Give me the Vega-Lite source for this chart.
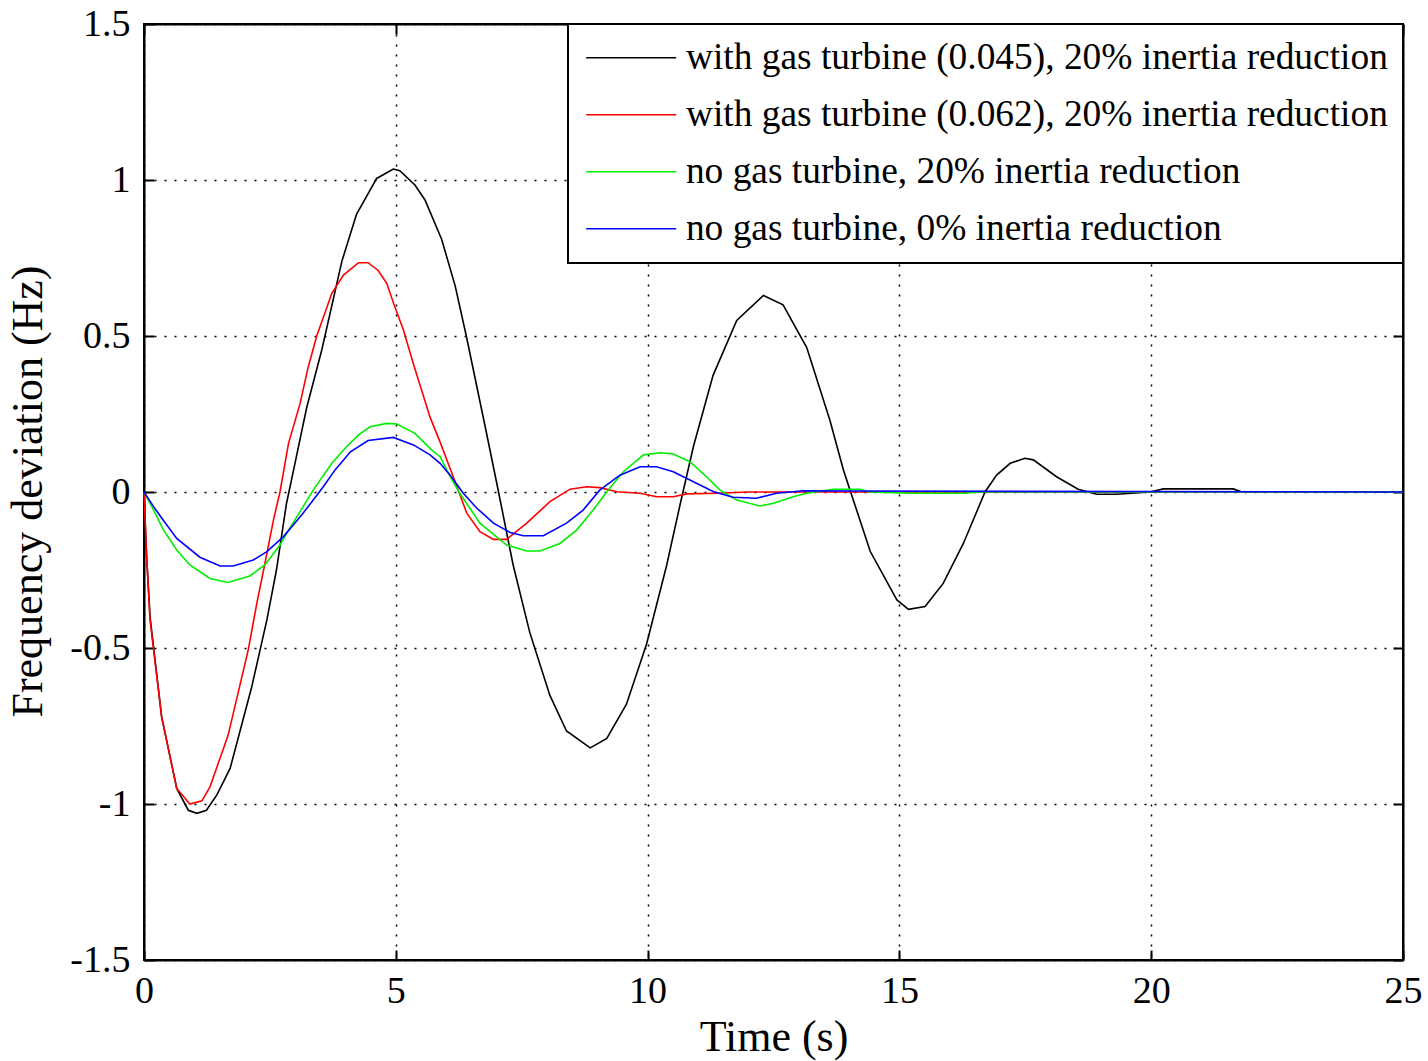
{
  "$schema": "https://vega.github.io/schema/vega-lite/v6.json",
  "width": 1259,
  "height": 936,
  "autosize": {"type": "none"},
  "padding": {"left": 144, "top": 24, "right": 25, "bottom": 101},
  "background": "white",
  "config": {
    "view": {"stroke": "black", "strokeWidth": 2},
    "font": "Liberation Serif",
    "legend": {"strokeWidth": 2}
  },
  "data": {
    "values": [
      {"t": 0, "f": 0, "s": "with gas turbine (0.045), 20% inertia reduction"},
      {"t": 0.05, "f": -0.2, "s": "with gas turbine (0.045), 20% inertia reduction"},
      {"t": 0.12, "f": -0.4, "s": "with gas turbine (0.045), 20% inertia reduction"},
      {"t": 0.35, "f": -0.72, "s": "with gas turbine (0.045), 20% inertia reduction"},
      {"t": 0.65, "f": -0.95, "s": "with gas turbine (0.045), 20% inertia reduction"},
      {"t": 0.88, "f": -1.02, "s": "with gas turbine (0.045), 20% inertia reduction"},
      {"t": 1.05, "f": -1.03, "s": "with gas turbine (0.045), 20% inertia reduction"},
      {"t": 1.24, "f": -1.02, "s": "with gas turbine (0.045), 20% inertia reduction"},
      {"t": 1.45, "f": -0.97, "s": "with gas turbine (0.045), 20% inertia reduction"},
      {"t": 1.71, "f": -0.886, "s": "with gas turbine (0.045), 20% inertia reduction"},
      {"t": 2.14, "f": -0.624, "s": "with gas turbine (0.045), 20% inertia reduction"},
      {"t": 2.44, "f": -0.41, "s": "with gas turbine (0.045), 20% inertia reduction"},
      {"t": 2.63, "f": -0.25, "s": "with gas turbine (0.045), 20% inertia reduction"},
      {"t": 2.83, "f": -0.036, "s": "with gas turbine (0.045), 20% inertia reduction"},
      {"t": 2.97, "f": 0.07, "s": "with gas turbine (0.045), 20% inertia reduction"},
      {"t": 3.23, "f": 0.27, "s": "with gas turbine (0.045), 20% inertia reduction"},
      {"t": 3.53, "f": 0.455, "s": "with gas turbine (0.045), 20% inertia reduction"},
      {"t": 3.93, "f": 0.74, "s": "with gas turbine (0.045), 20% inertia reduction"},
      {"t": 4.22, "f": 0.89, "s": "with gas turbine (0.045), 20% inertia reduction"},
      {"t": 4.62, "f": 1.005, "s": "with gas turbine (0.045), 20% inertia reduction"},
      {"t": 4.95, "f": 1.035, "s": "with gas turbine (0.045), 20% inertia reduction"},
      {"t": 5.08, "f": 1.03, "s": "with gas turbine (0.045), 20% inertia reduction"},
      {"t": 5.38, "f": 0.984, "s": "with gas turbine (0.045), 20% inertia reduction"},
      {"t": 5.58, "f": 0.936, "s": "with gas turbine (0.045), 20% inertia reduction"},
      {"t": 5.91, "f": 0.81, "s": "with gas turbine (0.045), 20% inertia reduction"},
      {"t": 6.18, "f": 0.66, "s": "with gas turbine (0.045), 20% inertia reduction"},
      {"t": 6.4, "f": 0.5, "s": "with gas turbine (0.045), 20% inertia reduction"},
      {"t": 6.8, "f": 0.19, "s": "with gas turbine (0.045), 20% inertia reduction"},
      {"t": 7.04, "f": 0.0, "s": "with gas turbine (0.045), 20% inertia reduction"},
      {"t": 7.33, "f": -0.234, "s": "with gas turbine (0.045), 20% inertia reduction"},
      {"t": 7.66, "f": -0.45, "s": "with gas turbine (0.045), 20% inertia reduction"},
      {"t": 8.06, "f": -0.652, "s": "with gas turbine (0.045), 20% inertia reduction"},
      {"t": 8.39, "f": -0.766, "s": "with gas turbine (0.045), 20% inertia reduction"},
      {"t": 8.86, "f": -0.82, "s": "with gas turbine (0.045), 20% inertia reduction"},
      {"t": 9.19, "f": -0.79, "s": "with gas turbine (0.045), 20% inertia reduction"},
      {"t": 9.58, "f": -0.68, "s": "with gas turbine (0.045), 20% inertia reduction"},
      {"t": 9.98, "f": -0.487, "s": "with gas turbine (0.045), 20% inertia reduction"},
      {"t": 10.38, "f": -0.234, "s": "with gas turbine (0.045), 20% inertia reduction"},
      {"t": 10.64, "f": -0.044, "s": "with gas turbine (0.045), 20% inertia reduction"},
      {"t": 10.91, "f": 0.146, "s": "with gas turbine (0.045), 20% inertia reduction"},
      {"t": 11.3, "f": 0.374, "s": "with gas turbine (0.045), 20% inertia reduction"},
      {"t": 11.77, "f": 0.55, "s": "with gas turbine (0.045), 20% inertia reduction"},
      {"t": 12.3, "f": 0.63, "s": "with gas turbine (0.045), 20% inertia reduction"},
      {"t": 12.69, "f": 0.6, "s": "with gas turbine (0.045), 20% inertia reduction"},
      {"t": 13.16, "f": 0.463, "s": "with gas turbine (0.045), 20% inertia reduction"},
      {"t": 13.62, "f": 0.23, "s": "with gas turbine (0.045), 20% inertia reduction"},
      {"t": 13.89, "f": 0.07, "s": "with gas turbine (0.045), 20% inertia reduction"},
      {"t": 14.02, "f": 0.006, "s": "with gas turbine (0.045), 20% inertia reduction"},
      {"t": 14.42, "f": -0.19, "s": "with gas turbine (0.045), 20% inertia reduction"},
      {"t": 14.95, "f": -0.346, "s": "with gas turbine (0.045), 20% inertia reduction"},
      {"t": 15.18, "f": -0.376, "s": "with gas turbine (0.045), 20% inertia reduction"},
      {"t": 15.51, "f": -0.367, "s": "with gas turbine (0.045), 20% inertia reduction"},
      {"t": 15.87, "f": -0.293, "s": "with gas turbine (0.045), 20% inertia reduction"},
      {"t": 16.27, "f": -0.165, "s": "with gas turbine (0.045), 20% inertia reduction"},
      {"t": 16.7, "f": 0.0, "s": "with gas turbine (0.045), 20% inertia reduction"},
      {"t": 16.93, "f": 0.054, "s": "with gas turbine (0.045), 20% inertia reduction"},
      {"t": 17.2, "f": 0.092, "s": "with gas turbine (0.045), 20% inertia reduction"},
      {"t": 17.49, "f": 0.108, "s": "with gas turbine (0.045), 20% inertia reduction"},
      {"t": 17.66, "f": 0.103, "s": "with gas turbine (0.045), 20% inertia reduction"},
      {"t": 18.12, "f": 0.049, "s": "with gas turbine (0.045), 20% inertia reduction"},
      {"t": 18.55, "f": 0.009, "s": "with gas turbine (0.045), 20% inertia reduction"},
      {"t": 18.92, "f": -0.007, "s": "with gas turbine (0.045), 20% inertia reduction"},
      {"t": 19.31, "f": -0.007, "s": "with gas turbine (0.045), 20% inertia reduction"},
      {"t": 19.98, "f": 0.0, "s": "with gas turbine (0.045), 20% inertia reduction"},
      {"t": 20.24, "f": 0.01, "s": "with gas turbine (0.045), 20% inertia reduction"},
      {"t": 21.63, "f": 0.01, "s": "with gas turbine (0.045), 20% inertia reduction"},
      {"t": 21.8, "f": 0.0, "s": "with gas turbine (0.045), 20% inertia reduction"},
      {"t": 25, "f": 0.0, "s": "with gas turbine (0.045), 20% inertia reduction"},

      {"t": 0, "f": 0, "s": "with gas turbine (0.062), 20% inertia reduction"},
      {"t": 0.05, "f": -0.2, "s": "with gas turbine (0.062), 20% inertia reduction"},
      {"t": 0.12, "f": -0.41, "s": "with gas turbine (0.062), 20% inertia reduction"},
      {"t": 0.35, "f": -0.72, "s": "with gas turbine (0.062), 20% inertia reduction"},
      {"t": 0.65, "f": -0.95, "s": "with gas turbine (0.062), 20% inertia reduction"},
      {"t": 0.91, "f": -1.0, "s": "with gas turbine (0.062), 20% inertia reduction"},
      {"t": 1.15, "f": -0.99, "s": "with gas turbine (0.062), 20% inertia reduction"},
      {"t": 1.31, "f": -0.945, "s": "with gas turbine (0.062), 20% inertia reduction"},
      {"t": 1.67, "f": -0.78, "s": "with gas turbine (0.062), 20% inertia reduction"},
      {"t": 2.07, "f": -0.506, "s": "with gas turbine (0.062), 20% inertia reduction"},
      {"t": 2.24, "f": -0.357, "s": "with gas turbine (0.062), 20% inertia reduction"},
      {"t": 2.4, "f": -0.23, "s": "with gas turbine (0.062), 20% inertia reduction"},
      {"t": 2.57, "f": -0.09, "s": "with gas turbine (0.062), 20% inertia reduction"},
      {"t": 2.7, "f": 0.0, "s": "with gas turbine (0.062), 20% inertia reduction"},
      {"t": 2.87, "f": 0.156, "s": "with gas turbine (0.062), 20% inertia reduction"},
      {"t": 3.1, "f": 0.284, "s": "with gas turbine (0.062), 20% inertia reduction"},
      {"t": 3.26, "f": 0.4, "s": "with gas turbine (0.062), 20% inertia reduction"},
      {"t": 3.43, "f": 0.5, "s": "with gas turbine (0.062), 20% inertia reduction"},
      {"t": 3.73, "f": 0.637, "s": "with gas turbine (0.062), 20% inertia reduction"},
      {"t": 3.96, "f": 0.695, "s": "with gas turbine (0.062), 20% inertia reduction"},
      {"t": 4.26, "f": 0.735, "s": "with gas turbine (0.062), 20% inertia reduction"},
      {"t": 4.45, "f": 0.735, "s": "with gas turbine (0.062), 20% inertia reduction"},
      {"t": 4.65, "f": 0.71, "s": "with gas turbine (0.062), 20% inertia reduction"},
      {"t": 4.82, "f": 0.669, "s": "with gas turbine (0.062), 20% inertia reduction"},
      {"t": 4.98, "f": 0.594, "s": "with gas turbine (0.062), 20% inertia reduction"},
      {"t": 5.15, "f": 0.52, "s": "with gas turbine (0.062), 20% inertia reduction"},
      {"t": 5.35, "f": 0.41, "s": "with gas turbine (0.062), 20% inertia reduction"},
      {"t": 5.68, "f": 0.24, "s": "with gas turbine (0.062), 20% inertia reduction"},
      {"t": 5.88, "f": 0.16, "s": "with gas turbine (0.062), 20% inertia reduction"},
      {"t": 6.14, "f": 0.049, "s": "with gas turbine (0.062), 20% inertia reduction"},
      {"t": 6.41, "f": -0.068, "s": "with gas turbine (0.062), 20% inertia reduction"},
      {"t": 6.67, "f": -0.127, "s": "with gas turbine (0.062), 20% inertia reduction"},
      {"t": 6.94, "f": -0.152, "s": "with gas turbine (0.062), 20% inertia reduction"},
      {"t": 7.2, "f": -0.152, "s": "with gas turbine (0.062), 20% inertia reduction"},
      {"t": 7.6, "f": -0.1, "s": "with gas turbine (0.062), 20% inertia reduction"},
      {"t": 8.06, "f": -0.031, "s": "with gas turbine (0.062), 20% inertia reduction"},
      {"t": 8.46, "f": 0.009, "s": "with gas turbine (0.062), 20% inertia reduction"},
      {"t": 8.79, "f": 0.017, "s": "with gas turbine (0.062), 20% inertia reduction"},
      {"t": 9.05, "f": 0.014, "s": "with gas turbine (0.062), 20% inertia reduction"},
      {"t": 9.39, "f": 0.001, "s": "with gas turbine (0.062), 20% inertia reduction"},
      {"t": 9.85, "f": -0.004, "s": "with gas turbine (0.062), 20% inertia reduction"},
      {"t": 10.18, "f": -0.015, "s": "with gas turbine (0.062), 20% inertia reduction"},
      {"t": 10.51, "f": -0.015, "s": "with gas turbine (0.062), 20% inertia reduction"},
      {"t": 10.78, "f": -0.006, "s": "with gas turbine (0.062), 20% inertia reduction"},
      {"t": 11.37, "f": -0.004, "s": "with gas turbine (0.062), 20% inertia reduction"},
      {"t": 12, "f": 0.0, "s": "with gas turbine (0.062), 20% inertia reduction"},
      {"t": 25, "f": 0.0, "s": "with gas turbine (0.062), 20% inertia reduction"},

      {"t": 0, "f": 0, "s": "no gas turbine, 20% inertia reduction"},
      {"t": 0.19, "f": -0.058, "s": "no gas turbine, 20% inertia reduction"},
      {"t": 0.38, "f": -0.12, "s": "no gas turbine, 20% inertia reduction"},
      {"t": 0.65, "f": -0.186, "s": "no gas turbine, 20% inertia reduction"},
      {"t": 0.91, "f": -0.234, "s": "no gas turbine, 20% inertia reduction"},
      {"t": 1.31, "f": -0.277, "s": "no gas turbine, 20% inertia reduction"},
      {"t": 1.67, "f": -0.29, "s": "no gas turbine, 20% inertia reduction"},
      {"t": 2.1, "f": -0.269, "s": "no gas turbine, 20% inertia reduction"},
      {"t": 2.4, "f": -0.234, "s": "no gas turbine, 20% inertia reduction"},
      {"t": 2.7, "f": -0.17, "s": "no gas turbine, 20% inertia reduction"},
      {"t": 2.87, "f": -0.122, "s": "no gas turbine, 20% inertia reduction"},
      {"t": 3.16, "f": -0.047, "s": "no gas turbine, 20% inertia reduction"},
      {"t": 3.36, "f": 0.006, "s": "no gas turbine, 20% inertia reduction"},
      {"t": 3.73, "f": 0.092, "s": "no gas turbine, 20% inertia reduction"},
      {"t": 4.02, "f": 0.145, "s": "no gas turbine, 20% inertia reduction"},
      {"t": 4.26, "f": 0.183, "s": "no gas turbine, 20% inertia reduction"},
      {"t": 4.49, "f": 0.209, "s": "no gas turbine, 20% inertia reduction"},
      {"t": 4.82, "f": 0.22, "s": "no gas turbine, 20% inertia reduction"},
      {"t": 5.02, "f": 0.218, "s": "no gas turbine, 20% inertia reduction"},
      {"t": 5.38, "f": 0.188, "s": "no gas turbine, 20% inertia reduction"},
      {"t": 5.71, "f": 0.135, "s": "no gas turbine, 20% inertia reduction"},
      {"t": 5.88, "f": 0.113, "s": "no gas turbine, 20% inertia reduction"},
      {"t": 6.08, "f": 0.049, "s": "no gas turbine, 20% inertia reduction"},
      {"t": 6.27, "f": -0.004, "s": "no gas turbine, 20% inertia reduction"},
      {"t": 6.67, "f": -0.1, "s": "no gas turbine, 20% inertia reduction"},
      {"t": 7.2, "f": -0.17, "s": "no gas turbine, 20% inertia reduction"},
      {"t": 7.6, "f": -0.189, "s": "no gas turbine, 20% inertia reduction"},
      {"t": 7.86, "f": -0.189, "s": "no gas turbine, 20% inertia reduction"},
      {"t": 8.26, "f": -0.165, "s": "no gas turbine, 20% inertia reduction"},
      {"t": 8.59, "f": -0.122, "s": "no gas turbine, 20% inertia reduction"},
      {"t": 8.92, "f": -0.058, "s": "no gas turbine, 20% inertia reduction"},
      {"t": 9.19, "f": 0.001, "s": "no gas turbine, 20% inertia reduction"},
      {"t": 9.52, "f": 0.065, "s": "no gas turbine, 20% inertia reduction"},
      {"t": 9.92, "f": 0.119, "s": "no gas turbine, 20% inertia reduction"},
      {"t": 10.25, "f": 0.126, "s": "no gas turbine, 20% inertia reduction"},
      {"t": 10.51, "f": 0.122, "s": "no gas turbine, 20% inertia reduction"},
      {"t": 10.84, "f": 0.097, "s": "no gas turbine, 20% inertia reduction"},
      {"t": 11.17, "f": 0.049, "s": "no gas turbine, 20% inertia reduction"},
      {"t": 11.44, "f": 0.006, "s": "no gas turbine, 20% inertia reduction"},
      {"t": 11.77, "f": -0.026, "s": "no gas turbine, 20% inertia reduction"},
      {"t": 12.23, "f": -0.045, "s": "no gas turbine, 20% inertia reduction"},
      {"t": 12.5, "f": -0.036, "s": "no gas turbine, 20% inertia reduction"},
      {"t": 12.89, "f": -0.015, "s": "no gas turbine, 20% inertia reduction"},
      {"t": 13.16, "f": -0.004, "s": "no gas turbine, 20% inertia reduction"},
      {"t": 13.69, "f": 0.009, "s": "no gas turbine, 20% inertia reduction"},
      {"t": 14.22, "f": 0.009, "s": "no gas turbine, 20% inertia reduction"},
      {"t": 14.4, "f": 0.0, "s": "no gas turbine, 20% inertia reduction"},
      {"t": 15.2, "f": -0.004, "s": "no gas turbine, 20% inertia reduction"},
      {"t": 16.3, "f": -0.004, "s": "no gas turbine, 20% inertia reduction"},
      {"t": 16.6, "f": 0.0, "s": "no gas turbine, 20% inertia reduction"},
      {"t": 25, "f": 0.0, "s": "no gas turbine, 20% inertia reduction"},

      {"t": 0, "f": 0, "s": "no gas turbine, 0% inertia reduction"},
      {"t": 0.19, "f": -0.047, "s": "no gas turbine, 0% inertia reduction"},
      {"t": 0.38, "f": -0.09, "s": "no gas turbine, 0% inertia reduction"},
      {"t": 0.65, "f": -0.149, "s": "no gas turbine, 0% inertia reduction"},
      {"t": 1.11, "f": -0.209, "s": "no gas turbine, 0% inertia reduction"},
      {"t": 1.51, "f": -0.237, "s": "no gas turbine, 0% inertia reduction"},
      {"t": 1.77, "f": -0.237, "s": "no gas turbine, 0% inertia reduction"},
      {"t": 2.17, "f": -0.218, "s": "no gas turbine, 0% inertia reduction"},
      {"t": 2.44, "f": -0.191, "s": "no gas turbine, 0% inertia reduction"},
      {"t": 2.77, "f": -0.143, "s": "no gas turbine, 0% inertia reduction"},
      {"t": 3.13, "f": -0.074, "s": "no gas turbine, 0% inertia reduction"},
      {"t": 3.36, "f": -0.026, "s": "no gas turbine, 0% inertia reduction"},
      {"t": 3.56, "f": 0.017, "s": "no gas turbine, 0% inertia reduction"},
      {"t": 3.79, "f": 0.07, "s": "no gas turbine, 0% inertia reduction"},
      {"t": 4.1, "f": 0.129, "s": "no gas turbine, 0% inertia reduction"},
      {"t": 4.45, "f": 0.165, "s": "no gas turbine, 0% inertia reduction"},
      {"t": 4.95, "f": 0.175, "s": "no gas turbine, 0% inertia reduction"},
      {"t": 5.35, "f": 0.151, "s": "no gas turbine, 0% inertia reduction"},
      {"t": 5.68, "f": 0.119, "s": "no gas turbine, 0% inertia reduction"},
      {"t": 5.88, "f": 0.092, "s": "no gas turbine, 0% inertia reduction"},
      {"t": 6.08, "f": 0.054, "s": "no gas turbine, 0% inertia reduction"},
      {"t": 6.34, "f": -0.004, "s": "no gas turbine, 0% inertia reduction"},
      {"t": 6.61, "f": -0.052, "s": "no gas turbine, 0% inertia reduction"},
      {"t": 6.94, "f": -0.1, "s": "no gas turbine, 0% inertia reduction"},
      {"t": 7.27, "f": -0.13, "s": "no gas turbine, 0% inertia reduction"},
      {"t": 7.53, "f": -0.14, "s": "no gas turbine, 0% inertia reduction"},
      {"t": 7.93, "f": -0.14, "s": "no gas turbine, 0% inertia reduction"},
      {"t": 8.39, "f": -0.1, "s": "no gas turbine, 0% inertia reduction"},
      {"t": 8.72, "f": -0.058, "s": "no gas turbine, 0% inertia reduction"},
      {"t": 9.05, "f": 0.006, "s": "no gas turbine, 0% inertia reduction"},
      {"t": 9.45, "f": 0.054, "s": "no gas turbine, 0% inertia reduction"},
      {"t": 9.85, "f": 0.081, "s": "no gas turbine, 0% inertia reduction"},
      {"t": 10.18, "f": 0.081, "s": "no gas turbine, 0% inertia reduction"},
      {"t": 10.51, "f": 0.065, "s": "no gas turbine, 0% inertia reduction"},
      {"t": 10.91, "f": 0.033, "s": "no gas turbine, 0% inertia reduction"},
      {"t": 11.31, "f": 0.001, "s": "no gas turbine, 0% inertia reduction"},
      {"t": 11.7, "f": -0.017, "s": "no gas turbine, 0% inertia reduction"},
      {"t": 12.16, "f": -0.02, "s": "no gas turbine, 0% inertia reduction"},
      {"t": 12.56, "f": -0.004, "s": "no gas turbine, 0% inertia reduction"},
      {"t": 13.09, "f": 0.004, "s": "no gas turbine, 0% inertia reduction"},
      {"t": 14, "f": 0.003, "s": "no gas turbine, 0% inertia reduction"},
      {"t": 25, "f": 0.0, "s": "no gas turbine, 0% inertia reduction"}
    ]
  },
  "layer": [
    {
      "mark": {"type": "line", "strokeWidth": 1.6},
      "encoding": {
        "x": {
          "field": "t", "type": "quantitative",
          "scale": {"domain": [0, 25], "nice": false, "zero": false},
          "axis": {
            "orient": "bottom", "values": [0, 5, 10, 15, 20, 25],
            "title": "Time (s)", "titleFont": "Liberation Serif", "titleFontSize": 44, "titleFontWeight": "normal",
            "titleColor": "black", "titleBaseline": "alphabetic", "titleY": 90,
            "labelFont": "Liberation Serif", "labelFontSize": 38, "labelColor": "black",
            "labelPadding": 22, "labelFlush": false, "labelExpr": "'' + datum.value",
            "domain": true, "domainColor": "black", "domainWidth": 2,
            "ticks": true, "tickSize": -10, "tickColor": "black", "tickWidth": 2,
            "grid": true, "gridColor": "black", "gridOpacity": 1, "gridWidth": 1.5, "gridDash": [2, 8]
          }
        },
        "y": {
          "field": "f", "type": "quantitative",
          "scale": {"domain": [-1.5, 1.5], "nice": false, "zero": false},
          "axis": {
            "orient": "left", "values": [-1.5, -1, -0.5, 0, 0.5, 1, 1.5],
            "title": "Frequency deviation (Hz)", "titleFont": "Liberation Serif", "titleFontSize": 44, "titleFontWeight": "normal",
            "titleColor": "black", "titleX": -94, "titleY": 467,
            "labelFont": "Liberation Serif", "labelFontSize": 38, "labelColor": "black",
            "labelPadding": 24, "labelFlush": false, "labelExpr": "'' + datum.value",
            "domain": true, "domainColor": "black", "domainWidth": 2,
            "ticks": true, "tickSize": -10, "tickColor": "black", "tickWidth": 2,
            "grid": true, "gridColor": "black", "gridOpacity": 1, "gridWidth": 1.5, "gridDash": [2, 8]
          }
        },
        "color": {
          "field": "s", "type": "nominal",
          "scale": {
            "domain": [
              "with gas turbine (0.045), 20% inertia reduction",
              "with gas turbine (0.062), 20% inertia reduction",
              "no gas turbine, 20% inertia reduction",
              "no gas turbine, 0% inertia reduction"
            ],
            "range": ["#000000", "#ff0000", "#00ee00", "#0000ff"]
          },
          "legend": {
            "title": null, "orient": "top-right", "offset": 0,
            "fillColor": "white", "strokeColor": "black",
            "padding": 15, "rowPadding": 18,
            "labelFont": "Liberation Serif", "labelFontSize": 37.4, "labelColor": "black", "labelLimit": 1000,
            "symbolType": "M-6,0H6", "symbolSize": 225, "symbolStrokeWidth": 1.6, "symbolOffset": 29.5,
            "labelOffset": 36
          }
        }
      }
    },
    {
      "mark": {"type": "line", "opacity": 0},
      "encoding": {
        "x": {
          "field": "t", "type": "quantitative",
          "axis": {
            "orient": "top", "values": [0, 5, 10, 15, 20, 25], "title": null, "labels": false,
            "domain": true, "domainColor": "black", "domainWidth": 2,
            "ticks": true, "tickSize": -10, "tickColor": "black", "tickWidth": 2, "grid": false
          }
        },
        "y": {
          "field": "f", "type": "quantitative",
          "axis": {
            "orient": "right", "values": [-1.5, -1, -0.5, 0, 0.5, 1, 1.5], "title": null, "labels": false,
            "domain": true, "domainColor": "black", "domainWidth": 2,
            "ticks": true, "tickSize": -10, "tickColor": "black", "tickWidth": 2, "grid": false
          }
        },
        "detail": {"field": "s"}
      }
    }
  ],
  "resolve": {"axis": {"x": "independent", "y": "independent"}}
}
